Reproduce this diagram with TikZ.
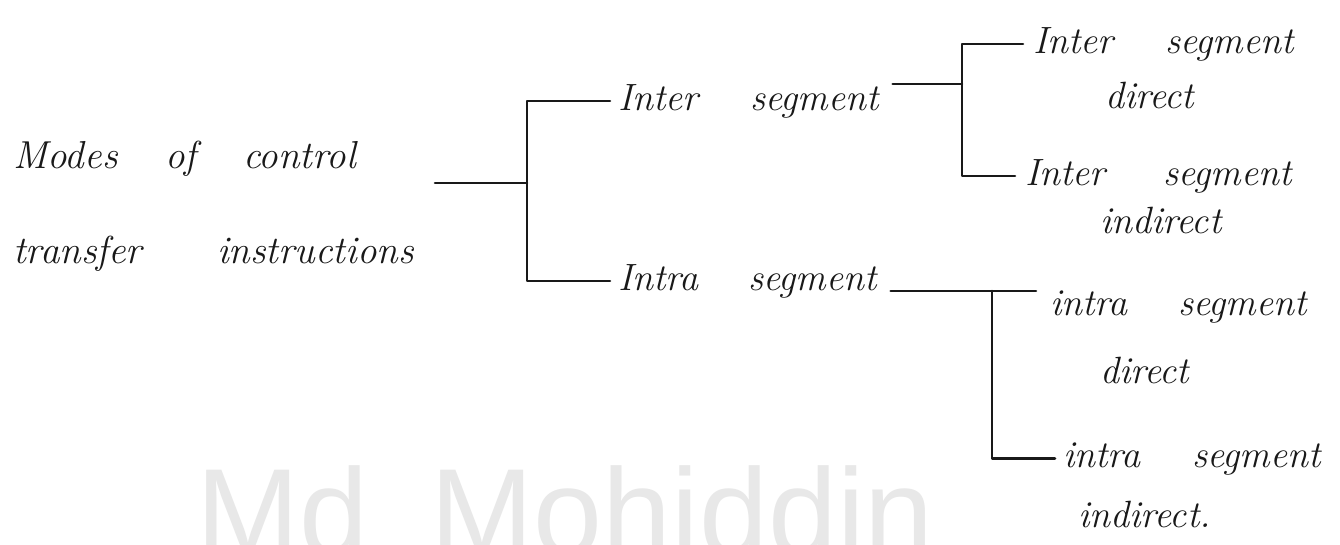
\documentclass[tikz,border=0pt]{standalone}
\usepackage{fontspec}
\newfontfamily\markfont{Liberation Sans}
\definecolor{markgray}{HTML}{E8E8E8}
\tikzset{
  hand/.style={font=\fontsize{38}{42}\selectfont\itshape\addfontfeature{LetterSpace=4},
               inner sep=0pt, anchor=base west, text=black!90},
  handbig/.style={hand, font=\fontsize{39}{44}\selectfont\itshape\addfontfeature{LetterSpace=3}},
  wire/.style={draw=black!90, line width=2.6pt, line cap=round, line join=round},
  markstyle/.style={font=\markfont\fontsize{124}{126}\selectfont, text=markgray,
               inner sep=0pt, anchor=base west}
}
\newcommand{\handword}[2]{\makebox[#1pt][l]{#2}}
\begin{document}
\begin{tikzpicture}[x=1pt,y=-1pt]
\useasboundingbox (0,0) rectangle (1340,544);
\fill[white] (0,0) rectangle (1340,544);

% background mark
\node[markstyle] (mark) at (196,555) {Md\hspace{62pt}Mohiddin};

% root label
\node[handbig] (rootA) at (13,168) {\handword{152}{Modes}\handword{78}{of}control};
\node[handbig] (rootB) at (13,263) {\handword{204}{transfer}instructions};

% first level
\node[hand] (inter) at (618,110) {\handword{132}{Inter}segment};
\node[hand] (intra) at (618,290) {\handword{130}{Intra}segment};

% second level, inter segment
\node[hand] (interdir)  at (1033,53)  {\handword{132}{Inter}segment};
\node[hand] (interdirB) at (1105,108) {direct};
\node[hand] (interind)  at (1025,185) {\handword{138}{Inter}segment};
\node[hand] (interindB) at (1100,233) {indirect};

% second level, intra segment
\node[hand] (intradir)  at (1050,315) {\handword{128}{intra}segment};
\node[hand] (intradirB) at (1100,383) {direct};
\node[hand] (intraind)  at (1063,467) {\handword{129}{intra}segment};
\node[hand] (intraindB) at (1078,527) {indirect.};

% junction points of the brackets
\coordinate (rootout) at (435,183);
\coordinate (j0) at (527,183);
\coordinate (j1) at (962,84);
\coordinate (j2) at (992,291);

% connectors
\draw[wire] (rootout) -- (j0);
\draw[wire] ([xshift=-8pt]inter.west) -| (j0) |- ([xshift=-8pt]intra.west);

\draw[wire] ([xshift=14pt]inter.east |- j1) -- (j1);
\draw[wire] ([xshift=-10pt]interdir.west) -| (j1) |- ([xshift=-10pt]interind.west);

\draw[wire] ([xshift=14pt]intra.east |- j2) -- (j2) -- ([xshift=-14pt]intradir.west |- j2);
\draw[wire] (j2) |- ([xshift=-8pt]intraind.west);
\end{tikzpicture}
\end{document}
